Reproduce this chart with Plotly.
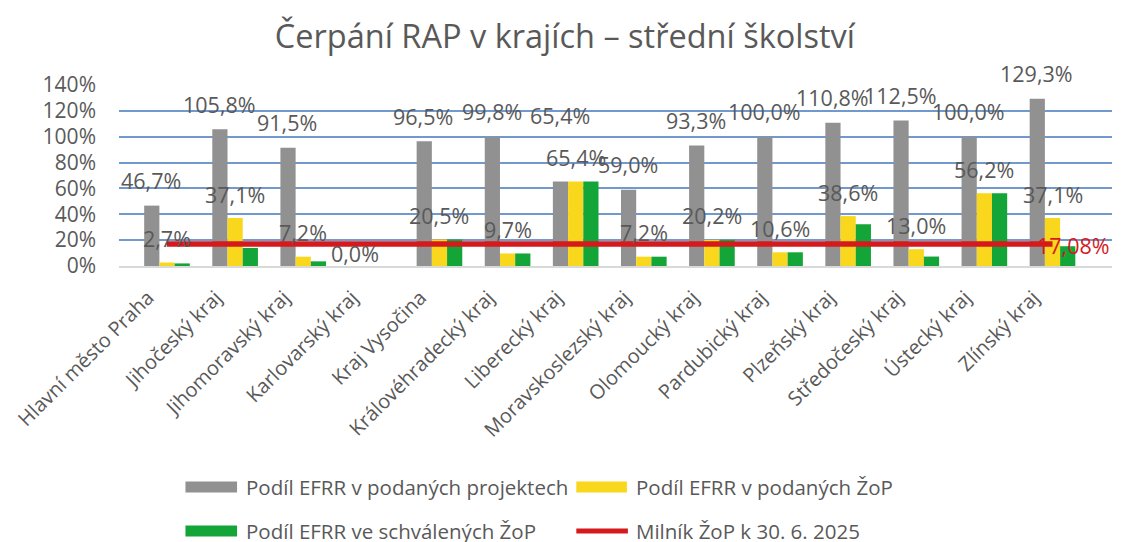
import plotly.graph_objects as go

categories = ["Hlavní město Praha", "Jihočeský kraj", "Jihomoravský kraj", "Karlovarský kraj",
              "Kraj Vysočina", "Královéhradecký kraj", "Liberecký kraj", "Moravskoslezský kraj",
              "Olomoucký kraj", "Pardubický kraj", "Plzeňský kraj", "Středočeský kraj",
              "Ústecký kraj", "Zlínský kraj"]
projekty = [46.7, 105.8, 91.5, 0.0, 96.5, 99.8, 65.4, 59.0, 93.3, 100.0, 110.8, 112.5, 100.0, 129.3]
podane_zop = [2.7, 37.1, 7.2, None, 20.5, 9.7, 65.4, 7.2, 20.2, 10.6, 38.6, 13.0, 56.2, 37.1]
schvalene_zop = [2.0, 14.0, 3.6, None, 20.5, 9.7, 65.4, 7.2, 20.2, 10.6, 32.3, 7.3, 56.2, 15.3]
milnik = 17.08
names = ["Podíl EFRR v podaných projektech", "Podíl EFRR v podaných ŽoP",
         "Podíl EFRR ve schválených ŽoP", "Milník ŽoP k 30. 6. 2025"]
title = "Čerpání RAP v krajích – střední školství"

GRAY = "#919191"
YELLOW = "#F9D71C"
GREEN = "#14A539"
RED = "#D51A1E"
TXT = "#595959"
FONT = "Open Sans"

W, H = 1139, 542
ML, MR, MT, MB = 111, 27, 85, 276
PW, PH = W - ML - MR, H - MT - MB


def px2x(px):
    return (px - ML) / PW


def py2y(py):
    return (H - MB - py) / PH


fig = go.Figure()
for vals, col, nm in [(projekty, GRAY, names[0]), (podane_zop, YELLOW, names[1]),
                      (schvalene_zop, GREEN, names[2])]:
    fig.add_trace(go.Bar(x=categories, y=vals, name=nm, marker_color=col,
                         marker_line_width=0, showlegend=False))

fig.add_trace(go.Scatter(x=categories, y=[milnik] * len(categories), mode="lines",
                         line=dict(color=RED, width=5.5), name=names[3], showlegend=False))

fmt = lambda v: f"{v:.1f}".replace(".", ",") + "%"
annotations = []
bar_w = 16
special_gray = {"Liberecký kraj": 66, "Karlovarský kraj": 13}
for i, c in enumerate(categories):
    v = projekty[i]
    if v is not None:
        annotations.append(dict(x=c, y=v, xref="x", yref="y", text=fmt(v), showarrow=False,
                                xshift=-bar_w, yshift=special_gray.get(c, 25), yanchor="middle",
                                font=dict(size=21.5, color=TXT, family=FONT)))
    v = podane_zop[i]
    if v is not None:
        annotations.append(dict(x=c, y=v, xref="x", yref="y", text=fmt(v), showarrow=False,
                                xshift=0, yshift=24, yanchor="middle",
                                font=dict(size=21.5, color=TXT, family=FONT)))
annotations.append(dict(x=categories[-1], y=milnik, xref="x", yref="y",
                        text=f"{milnik:.2f}".replace(".", ",") + "%", showarrow=False,
                        xshift=21, yshift=-2, yanchor="middle",
                        font=dict(size=21.5, color=RED, family=FONT)))

# legend (manual)
shapes = []
leg = [(178, 230, 487, GRAY, "bar", names[0], 237),
       (572, 623, 487, YELLOW, "bar", names[1], 630),
       (178, 230, 531, GREEN, "bar", names[2], 237),
       (570, 626, 531, RED, "line", names[3], 630)]
for x0, x1, yc, col, kind, nm, tx in leg:
    if kind == "bar":
        shapes.append(dict(type="rect", xref="paper", yref="paper", x0=px2x(x0), x1=px2x(x1),
                           y0=py2y(yc + 5.5), y1=py2y(yc - 5.5), fillcolor=col, line_width=0))
    else:
        shapes.append(dict(type="line", xref="paper", yref="paper", x0=px2x(x0 + 2), x1=px2x(x1 - 2),
                           y0=py2y(yc), y1=py2y(yc), line=dict(color=col, width=5)))
    annotations.append(dict(x=px2x(tx), y=py2y(yc), xref="paper", yref="paper", text=nm,
                            showarrow=False, xanchor="left", yanchor="middle",
                            font=dict(size=20.5, color=TXT, family=FONT)))

fig.update_layout(
    width=W, height=H,
    margin=dict(l=ML, r=MR, t=MT, b=MB),
    paper_bgcolor="white", plot_bgcolor="white",
    barmode="group", bargap=0.33, bargroupgap=0,
    font=dict(family=FONT, color=TXT),
    title=dict(text=title, x=0.496, xanchor="center", y=1 - 37 / H, yanchor="middle",
               yref="container", font=dict(size=32.5, color=TXT, family=FONT)),
    annotations=annotations, shapes=shapes, showlegend=False,
)
fig.update_yaxes(range=[0, 140], dtick=20, ticksuffix="%", showgrid=True, gridcolor="#7199CE",
                 gridwidth=2, zeroline=False, showline=False, ticks="",
                 ticklabelstandoff=22, tickfont=dict(size=21, color=TXT, family=FONT))
fig.update_xaxes(showline=True, linecolor="#D9D9D9", linewidth=2, tickangle=-45, ticks="",
                 ticklabelstandoff=10, ticklabelshift=-19,
                 tickfont=dict(size=20, color=TXT, family=FONT))

fig.write_html("out.html", config={"displayModeBar": False},
               post_script="document.body.style.margin='0';document.body.style.overflow='hidden';")
